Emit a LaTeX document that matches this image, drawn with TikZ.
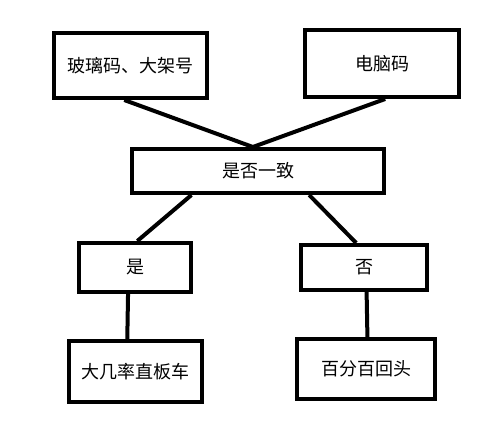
\documentclass[tikz,border=0pt]{standalone}
\usepackage{fontspec}
\newfontfamily\cjk{Noto Sans CJK SC}
\usetikzlibrary{positioning,calc}

\begin{document}
\begin{tikzpicture}[
    x=1pt, y=-1pt,
    font=\cjk\fontsize{18}{21}\selectfont,
    box/.style={draw=black, line width=4pt, rectangle, inner sep=0pt, align=center},
    link/.style={draw=black, line width=4pt}
]
\useasboundingbox (0,0) rectangle (503,438);

\node[box, minimum width=153pt, minimum height=65pt] (glass) at (130.5,65.5) {玻璃码、大架号};
\node[box, minimum width=154pt, minimum height=67pt] (ecu) at (382,63.5) {\raisebox{-4pt}{电脑码}};
\node[box, minimum width=252pt, minimum height=44pt] (match) at (258,171) {是否一致};
\node[box, minimum width=112pt, minimum height=49pt] (yes) at (135,267.5) {是};
\node[box, minimum width=126pt, minimum height=45pt] (no) at (364,267.5) {否};
\node[box, minimum width=133pt, minimum height=61pt] (likely) at (135.5,371.5) {大几率直板车};
\node[box, minimum width=138pt, minimum height=60pt] (back) at (366,369) {百分百回头};

\draw[link] ($(glass.south west)!0.46!(glass.south east)$) -- ($(match.north west)!0.48!(match.north east)$);
\draw[link] ($(ecu.south west)!0.52!(ecu.south east)$) -- ($(match.north west)!0.48!(match.north east)$);
\draw[link] ($(match.south west)!0.24!(match.south east)$) -- ($(yes.north west)!0.52!(yes.north east)$);
\draw[link] ($(match.south west)!0.70!(match.south east)$) -- ($(no.north west)!0.44!(no.north east)$);
\draw[link] ($(yes.south west)!0.44!(yes.south east)$) -- ($(likely.north west)!0.44!(likely.north east)$);
\draw[link] ($(no.south west)!0.52!(no.south east)$) -- ($(back.north west)!0.51!(back.north east)$);

\end{tikzpicture}
\end{document}
